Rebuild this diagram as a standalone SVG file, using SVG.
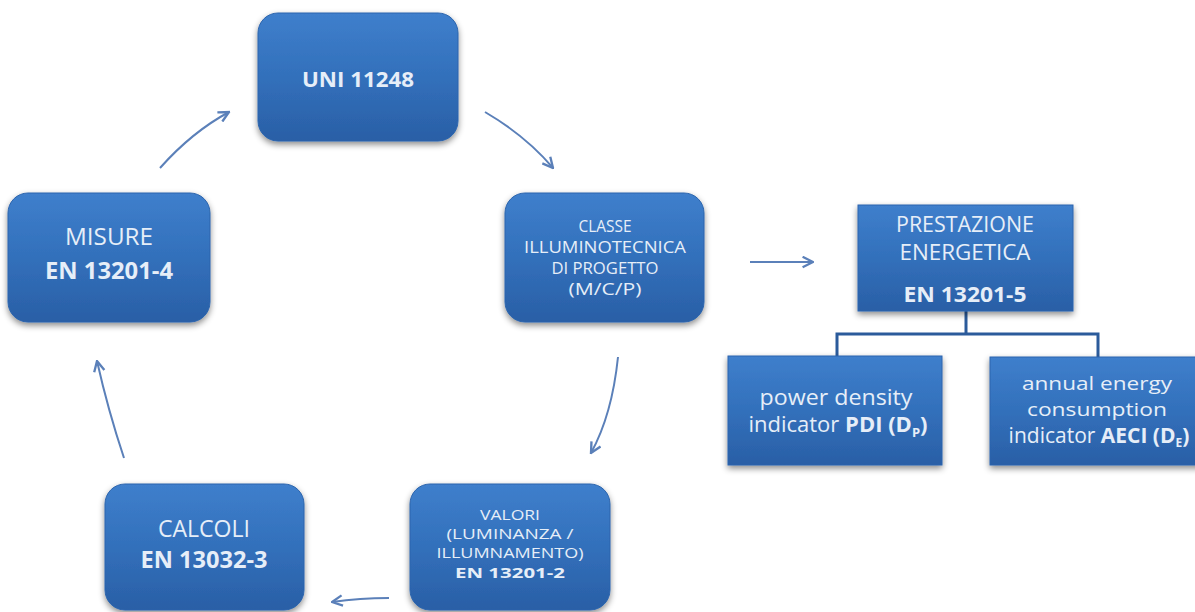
<svg xmlns="http://www.w3.org/2000/svg" width="1195" height="612" viewBox="0 0 1195 612">
<defs>
<linearGradient id="g" x1="0" y1="0" x2="0" y2="1">
<stop offset="0" stop-color="#3f7fcc"/>
<stop offset="0.5" stop-color="#3270bb"/>
<stop offset="1" stop-color="#2a5fa6"/>
</linearGradient>
<filter id="sh" x="-10%" y="-10%" width="120%" height="130%">
<feDropShadow dx="0" dy="3" stdDeviation="3" flood-color="#000" flood-opacity="0.45"/>
</filter>
<marker id="ah" viewBox="0 0 10 10" refX="9" refY="5" markerWidth="13" markerHeight="13" markerUnits="userSpaceOnUse" orient="auto">
<path d="M1,1 L9,5 L1,9" fill="none" stroke="#5b80b9" stroke-width="1.8"/>
</marker>
<style>
.box{fill:url(#g);filter:url(#sh);stroke:#2d65ad;stroke-width:1}
.t{font-family:"Open Sans","Liberation Sans",sans-serif;fill:#e6eef8;text-anchor:middle}
.b{font-weight:bold}
.arr{fill:none;stroke:#5b80b9;stroke-width:2;marker-end:url(#ah)}
.tree{fill:none;stroke:#2b5b9b;stroke-width:3}
</style>
</defs>
<rect width="1195" height="612" fill="#ffffff"/>

<g id="connectors">
<path class="arr" d="M160,168 Q192,132 229,112"/>
<path class="arr" d="M485,112 Q526,136 553,168"/>
<path class="arr" d="M750,262 L813,262"/>
<path class="arr" d="M618,357 Q612,415 591,453"/>
<path class="arr" d="M389,598 Q360,598 332,602"/>
<path class="arr" d="M124,458 Q108,410 97,361"/>
<path class="tree" d="M966,311 V334"/>
<path class="tree" d="M837,356 V334 H1098 V357"/>
</g>

<g id="uni">
<rect class="box" x="258" y="13" width="200" height="128" rx="20"/>
<text class="t b" x="358" y="87" font-size="22" textLength="112" lengthAdjust="spacingAndGlyphs">UNI 11248</text>
</g>

<g id="classe">
<rect class="box" x="505" y="193" width="199" height="129" rx="20"/>
<text class="t" x="605" y="232" font-size="17" textLength="53" lengthAdjust="spacingAndGlyphs">CLASSE</text>
<text class="t" x="605" y="253" font-size="17" textLength="162" lengthAdjust="spacingAndGlyphs">ILLUMINOTECNICA</text>
<text class="t" x="605" y="274" font-size="17" textLength="107" lengthAdjust="spacingAndGlyphs">DI PROGETTO</text>
<text class="t" x="605" y="295" font-size="17" textLength="73" lengthAdjust="spacingAndGlyphs">(M/C/P)</text>
</g>

<g id="misure">
<rect class="box" x="8" y="193" width="202" height="129" rx="20"/>
<text class="t" x="109" y="245" font-size="23" textLength="88" lengthAdjust="spacingAndGlyphs">MISURE</text>
<text class="t b" x="109" y="279" font-size="23" textLength="128" lengthAdjust="spacingAndGlyphs">EN 13201-4</text>
</g>

<g id="calcoli">
<rect class="box" x="105" y="484" width="199" height="126" rx="20"/>
<text class="t" x="204" y="537" font-size="23" textLength="92" lengthAdjust="spacingAndGlyphs">CALCOLI</text>
<text class="t b" x="204" y="568" font-size="23" textLength="127" lengthAdjust="spacingAndGlyphs">EN 13032-3</text>
</g>

<g id="valori">
<rect class="box" x="410" y="484" width="200" height="126" rx="20"/>
<text class="t" x="510" y="520" font-size="15" textLength="60" lengthAdjust="spacingAndGlyphs">VALORI</text>
<text class="t" x="510" y="539" font-size="15" textLength="127" lengthAdjust="spacingAndGlyphs">(LUMINANZA /</text>
<text class="t" x="510" y="558" font-size="15" textLength="147" lengthAdjust="spacingAndGlyphs">ILLUMNAMENTO)</text>
<text class="t b" x="510" y="578" font-size="15" textLength="110" lengthAdjust="spacingAndGlyphs">EN 13201-2</text>
</g>

<g id="prestazione">
<rect class="box" x="858" y="205" width="215" height="106"/>
<text class="t" x="965" y="232" font-size="21" textLength="138" lengthAdjust="spacingAndGlyphs">PRESTAZIONE</text>
<text class="t" x="965" y="260" font-size="21" textLength="131" lengthAdjust="spacingAndGlyphs">ENERGETICA</text>
<text class="t b" x="965" y="302" font-size="21" textLength="123" lengthAdjust="spacingAndGlyphs">EN 13201-5</text>
</g>

<g id="pdi">
<rect class="box" x="728" y="356" width="214" height="109"/>
<text class="t" x="836" y="405" font-size="22" textLength="153" lengthAdjust="spacingAndGlyphs">power density</text>
<text class="t" x="838" y="432" font-size="22">indicator <tspan class="b">PDI (D<tspan font-size="13" dy="5">P</tspan><tspan dy="-5">)</tspan></tspan></text>
</g>

<g id="aeci">
<rect class="box" x="990" y="357" width="215" height="108"/>
<text class="t" x="1097" y="390" font-size="19" textLength="150" lengthAdjust="spacingAndGlyphs">annual energy</text>
<text class="t" x="1097" y="416" font-size="19" textLength="140" lengthAdjust="spacingAndGlyphs">consumption</text>
<text class="t" x="1099" y="443" font-size="21">indicator <tspan class="b">AECI (D<tspan font-size="12" dy="4">E</tspan><tspan dy="-4">)</tspan></tspan></text>
</g>
</svg>
